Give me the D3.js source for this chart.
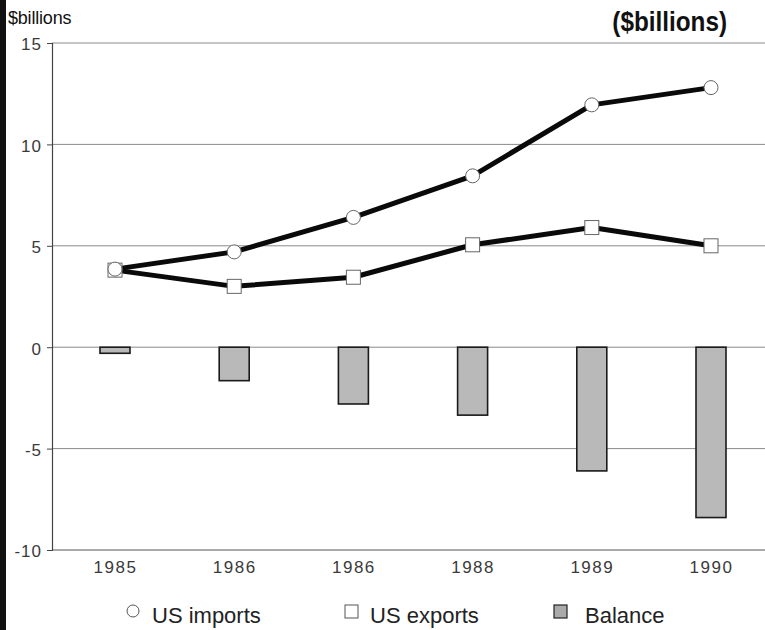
<!DOCTYPE html>
<html>
<head>
<meta charset="utf-8">
<script src="https://cdn.jsdelivr.net/npm/d3@7"></script>
<style>
  html, body { margin: 0; padding: 0; background: #fff; }
  svg { display: block; }
</style>
</head>
<body>
<svg id="chart" width="765" height="630"></svg>
<script>
// US trade, $billions
const yearLabels = ["1985", "1986", "1986", "1988", "1989", "1990"];
const usImports = [3.85, 4.7, 6.4, 8.45, 11.95, 12.8];
const usExports = [3.8, 3.0, 3.45, 5.05, 5.9, 5.0];
const balance = [-0.3, -1.65, -2.8, -3.35, -6.1, -8.4];
const yTicks = [15, 10, 5, 0, -5, -10];
const legendLabels = ["US imports", "US exports", "Balance"];

const svg = d3.select("#chart");
const W = 765, H = 630;
const plot = { left: 52, right: 765, top: 43, bottom: 550 };
const font = "'Liberation Sans', Arial, Helvetica, sans-serif";

svg.append("rect").attr("width", W).attr("height", H).attr("fill", "#fff");
// dark strip along the left edge
svg.append("rect").attr("x", 0).attr("y", 0).attr("width", 6).attr("height", H).attr("fill", "#111");

const idx = d3.range(yearLabels.length);
const x = d3.scalePoint().domain(idx).range([115, 711]);
const y = d3.scaleLinear().domain([-10, 15]).range([plot.bottom, plot.top]);

// horizontal gridlines
svg.append("g").selectAll("line").data(yTicks).join("line")
  .attr("x1", plot.left).attr("x2", plot.right)
  .attr("y1", d => y(d)).attr("y2", d => y(d))
  .attr("stroke", d => d === -10 ? "#555" : "#8a8a8a")
  .attr("stroke-width", 1);

// left axis with short outward ticks
const yAxis = d3.axisLeft(y).tickValues(yTicks).tickSize(5).tickPadding(4)
  .tickFormat(d => d < 0 ? "-" + Math.abs(d) : d);
const gy = svg.append("g").attr("transform", `translate(${plot.left},0)`).call(yAxis);
gy.select(".domain").attr("stroke", "#444").attr("stroke-width", 1.2);
gy.selectAll(".tick line").attr("stroke", "#444");
gy.selectAll(".tick text").attr("font-family", font).attr("font-size", 17)
  .attr("letter-spacing", 1).attr("fill", "#3a3a3a").attr("dx", -1).attr("dy", "0.4em");

// bottom axis labels
const xAxis = d3.axisBottom(x).tickSize(0).tickPadding(11).tickFormat(i => yearLabels[i]);
const gx = svg.append("g").attr("transform", `translate(0,${plot.bottom})`).call(xAxis);
gx.select(".domain").remove();
gx.selectAll(".tick text").attr("font-family", font).attr("font-size", 17)
  .attr("letter-spacing", 1.5).attr("fill", "#3a3a3a");

// balance bars
const barW = 30;
svg.append("g").selectAll("rect").data(idx).join("rect")
  .attr("x", i => x(i) - barW / 2)
  .attr("y", i => Math.min(y(0), y(balance[i])))
  .attr("width", barW)
  .attr("height", i => Math.abs(y(balance[i]) - y(0)))
  .attr("fill", "#b9b9b9")
  .attr("stroke", "#1a1a1a")
  .attr("stroke-width", 1.6);

// series lines
const line = vals => d3.line().x(i => x(i)).y(i => y(vals[i]))(idx);
svg.append("path").attr("d", line(usExports)).attr("fill", "none")
  .attr("stroke", "#0a0a0a").attr("stroke-width", 5).attr("stroke-linejoin", "round");
svg.append("path").attr("d", line(usImports)).attr("fill", "none")
  .attr("stroke", "#0a0a0a").attr("stroke-width", 5).attr("stroke-linejoin", "round");

// export markers (squares)
const sq = 14;
svg.append("g").selectAll("rect").data(idx).join("rect")
  .attr("x", i => x(i) - sq / 2).attr("y", i => y(usExports[i]) - sq / 2)
  .attr("width", sq).attr("height", sq)
  .attr("fill", "#fff").attr("stroke", "#666").attr("stroke-width", 1);

// import markers (circles)
svg.append("g").selectAll("circle").data(idx).join("circle")
  .attr("cx", i => x(i)).attr("cy", i => y(usImports[i])).attr("r", 7)
  .attr("fill", "#fff").attr("stroke", "#666").attr("stroke-width", 1);

// unit labels
svg.append("text").attr("x", 8).attr("y", 24)
  .attr("font-family", font).attr("font-size", 18).attr("letter-spacing", -0.2)
  .attr("fill", "#111").text("$billions");
svg.append("text").attr("transform", "translate(727,31) scale(0.9,1)").attr("text-anchor", "end")
  .attr("font-family", "'Liberation Sans Narrow', 'Arial Narrow', 'Liberation Sans', sans-serif")
  .attr("font-weight", "bold").attr("font-size", 27)
  .attr("fill", "#111").text("($billions)");

// legend
const lg = svg.append("g").attr("font-family", font).attr("font-size", 22).attr("fill", "#222");
lg.append("circle").attr("cx", 133).attr("cy", 611).attr("r", 6)
  .attr("fill", "#fff").attr("stroke", "#555").attr("stroke-width", 1);
lg.append("text").attr("x", 152).attr("y", 623).text(legendLabels[0]);
lg.append("rect").attr("x", 345).attr("y", 605).attr("width", 13).attr("height", 13)
  .attr("fill", "#fff").attr("stroke", "#555").attr("stroke-width", 1);
lg.append("text").attr("x", 370).attr("y", 623).text(legendLabels[1]);
lg.append("rect").attr("x", 554).attr("y", 605).attr("width", 13).attr("height", 13)
  .attr("fill", "#aaa").attr("stroke", "#222").attr("stroke-width", 1.2);
lg.append("text").attr("x", 585).attr("y", 623).text(legendLabels[2]);
</script>
</body>
</html>
